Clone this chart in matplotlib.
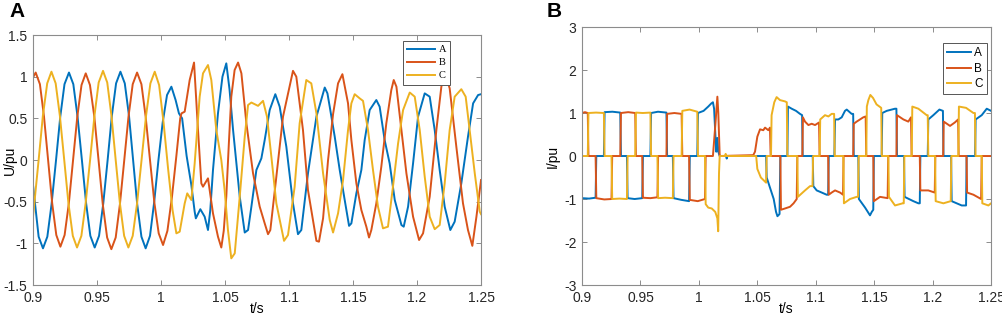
import numpy as np
import matplotlib.pyplot as plt

plt.rcParams['font.family'] = ['Liberation Sans', 'DejaVu Sans']
plt.rcParams['axes.unicode_minus'] = False

# ---------- panel A : phase voltages (t, U/pu) ----------
ua = [(0.9000, -0.30), (0.9044, -0.92), (0.9078, -1.06), (0.9112, -0.92), (0.9145, -0.53),
      (0.9180, 0.00), (0.9213, 0.52), (0.9246, 0.91), (0.9281, 1.05), (0.9315, 0.91),
      (0.9348, 0.52), (0.9382, 0.00), (0.9415, -0.52), (0.9448, -0.91), (0.9482, -1.05),
      (0.9516, -0.91), (0.9549, -0.52), (0.9583, 0.00), (0.9616, 0.53), (0.9649, 0.92),
      (0.9683, 1.06), (0.9717, 0.92), (0.9750, 0.53), (0.9782, 0.00), (0.9814, -0.53),
      (0.9847, -0.92), (0.9880, -1.06), (0.9914, -0.91), (0.9947, -0.50), (0.9980, 0.00),
      (1.0013, 0.45), (1.0047, 0.78), (1.0081, 0.88), (1.0114, 0.72), (1.0140, 0.56),
      (1.0165, 0.50), (1.0200, 0.05), (1.0237, -0.30), (1.0263, -0.62), (1.0272, -0.70),
      (1.0307, -0.59), (1.0341, -0.68), (1.0367, -0.84), (1.0385, -0.60), (1.0406, -0.12),
      (1.0445, 0.56), (1.0480, 1.00), (1.0510, 1.16), (1.0535, 0.85), (1.0563, 0.36),
      (1.0615, -0.44), (1.0654, -0.87), (1.0680, -0.84), (1.0706, -0.56), (1.0745, -0.12),
      (1.0784, 0.02), (1.0810, 0.24), (1.0849, 0.60), (1.0893, 0.79), (1.0927, 0.64),
      (1.0979, 0.16), (1.1031, -0.52), (1.1070, -0.89), (1.1096, -0.84), (1.1148, -0.16),
      (1.1214, 0.52), (1.1279, 0.87), (1.1300, 0.80), (1.1318, 0.64), (1.1357, 0.28),
      (1.1396, -0.12), (1.1435, -0.48), (1.1469, -0.79), (1.1487, -0.76), (1.1526, -0.40),
      (1.1565, -0.12), (1.1591, 0.24), (1.1630, 0.60), (1.1682, 0.72), (1.1708, 0.64),
      (1.1747, 0.24), (1.1786, -0.04), (1.1826, -0.48), (1.1878, -0.78), (1.1896, -0.80),
      (1.1930, -0.56), (1.1969, -0.04), (1.2008, 0.52), (1.2060, 0.80), (1.2099, 0.76),
      (1.2138, 0.36), (1.2177, -0.12), (1.2216, -0.56), (1.2260, -0.84), (1.2294, -0.74),
      (1.2346, -0.28), (1.2398, 0.28), (1.2438, 0.68), (1.2477, 0.78), (1.2500, 0.79)]

ub = [(0.9000, 0.99), (0.9021, 1.05), (0.9054, 0.91), (0.9086, 0.52), (0.9118, 0.00),
      (0.9150, -0.52), (0.9182, -0.90), (0.9214, -1.04), (0.9247, -0.90), (0.9280, -0.52),
      (0.9313, 0.00), (0.9346, 0.52), (0.9379, 0.90), (0.9412, 1.04), (0.9445, 0.90),
      (0.9479, 0.52), (0.9512, 0.00), (0.9545, -0.53), (0.9579, -0.93), (0.9612, -1.07),
      (0.9646, -0.93), (0.9679, -0.53), (0.9713, 0.00), (0.9746, 0.52), (0.9779, 0.91),
      (0.9813, 1.05), (0.9847, 0.91), (0.9880, 0.52), (0.9914, 0.00), (0.9948, -0.51),
      (0.9982, -0.88), (1.0016, -1.02), (1.0050, -0.85), (1.0085, -0.45), (1.0120, 0.05),
      (1.0150, 0.50), (1.0160, 0.56), (1.0185, 0.58), (1.0224, 0.96), (1.0258, 1.17),
      (1.0289, 0.36), (1.0315, -0.28), (1.0328, -0.32), (1.0367, -0.22), (1.0406, -0.64),
      (1.0445, -0.92), (1.0471, -1.05), (1.0490, -0.85), (1.0510, -0.44), (1.0530, 0.20),
      (1.0549, 0.76), (1.0575, 1.08), (1.0602, 1.17), (1.0628, 1.04), (1.0667, 0.44),
      (1.0719, -0.16), (1.0771, -0.56), (1.0810, -0.76), (1.0836, -0.89), (1.0854, -0.84),
      (1.0901, -0.20), (1.0953, 0.52), (1.1031, 1.07), (1.1057, 1.00), (1.1109, 0.36),
      (1.1148, -0.36), (1.1214, -0.97), (1.1234, -0.98), (1.1266, -0.70), (1.1305, 0.00),
      (1.1344, 0.55), (1.1383, 0.92), (1.1417, 1.03), (1.1461, 0.68), (1.1487, 0.24),
      (1.1526, -0.28), (1.1565, -0.60), (1.1604, -0.80), (1.1625, -0.93), (1.1643, -0.84),
      (1.1682, -0.52), (1.1721, -0.08), (1.1760, 0.44), (1.1799, 0.84), (1.1818, 0.96),
      (1.1839, 0.88), (1.1878, 0.36), (1.1917, -0.16), (1.1969, -0.68), (1.2016, -0.96),
      (1.2047, -0.88), (1.2099, -0.44), (1.2151, 0.36), (1.2190, 0.88), (1.2216, 1.06),
      (1.2255, 0.86), (1.2307, 0.16), (1.2359, -0.52), (1.2398, -0.84), (1.2432, -1.03),
      (1.2464, -0.68), (1.2500, -0.24)]

uc = [(0.9000, -0.68), (0.9044, 0.00), (0.9077, 0.53), (0.9111, 0.92), (0.9144, 1.06),
      (0.9177, 0.92), (0.9210, 0.53), (0.9244, 0.00), (0.9277, -0.52), (0.9311, -0.91),
      (0.9344, -1.05), (0.9378, -0.91), (0.9411, -0.52), (0.9446, 0.00), (0.9480, 0.53),
      (0.9513, 0.93), (0.9547, 1.07), (0.9580, 0.93), (0.9613, 0.53), (0.9646, 0.00),
      (0.9679, -0.52), (0.9712, -0.91), (0.9745, -1.05), (0.9779, -0.91), (0.9813, -0.52),
      (0.9848, 0.00), (0.9883, 0.53), (0.9917, 0.92), (0.9951, 1.06), (0.9985, 0.90),
      (1.0020, 0.45), (1.0055, -0.10), (1.0090, -0.60), (1.0120, -0.88), (1.0146, -0.86),
      (1.0185, -0.52), (1.0205, -0.40), (1.0237, -0.48), (1.0263, -0.04), (1.0302, 0.76),
      (1.0328, 1.04), (1.0367, 1.14), (1.0393, 0.96), (1.0432, 0.36), (1.0471, 0.00),
      (1.0497, -0.36), (1.0523, -0.84), (1.0549, -1.18), (1.0576, -1.12), (1.0615, -0.44),
      (1.0654, 0.28), (1.0680, 0.66), (1.0706, 0.69), (1.0758, 0.65), (1.0797, 0.71),
      (1.0828, 0.52), (1.0862, 0.04), (1.0901, -0.52), (1.0961, -0.97), (1.0992, -0.90),
      (1.1044, -0.32), (1.1083, 0.44), (1.1135, 0.96), (1.1174, 0.92), (1.1214, 0.56),
      (1.1266, -0.16), (1.1318, -0.72), (1.1344, -0.87), (1.1383, -0.64), (1.1422, -0.24),
      (1.1461, 0.36), (1.1487, 0.68), (1.1513, 0.79), (1.1552, 0.74), (1.1578, 0.71),
      (1.1617, 0.36), (1.1656, -0.12), (1.1695, -0.56), (1.1734, -0.82), (1.1773, -0.80),
      (1.1812, -0.32), (1.1852, 0.20), (1.1891, 0.60), (1.1943, 0.81), (1.1982, 0.76),
      (1.2021, 0.36), (1.2060, -0.20), (1.2099, -0.68), (1.2138, -0.83), (1.2177, -0.78),
      (1.2216, -0.28), (1.2255, 0.36), (1.2294, 0.76), (1.2346, 0.85), (1.2380, 0.76),
      (1.2411, 0.36), (1.2451, -0.16), (1.2490, -0.62), (1.2500, -0.65)]

# ---------- panel B : phase currents (t, I/pu) ----------
ia = [(0.9000, -0.98), (0.9060, -0.99), (0.9116, -0.97), (0.9122, 0.00), (0.9187, 0.00),
      (0.9193, 1.02), (0.9260, 1.03), (0.9327, 1.01), (0.9333, 0.00), (0.9384, 0.00),
      (0.9390, -0.98), (0.9450, -1.00), (0.9515, -0.98), (0.9521, 0.00), (0.9585, 0.00),
      (0.9591, 1.00), (0.9650, 1.03), (0.9722, 1.01), (0.9728, 0.00), (0.9777, 0.00),
      (0.9783, -0.98), (0.9850, -1.02), (0.9916, -1.05), (0.9922, 0.00), (0.9986, 0.00),
      (0.9992, 1.00), (1.0040, 1.05), (1.0080, 1.15), (1.0105, 1.22), (1.0120, 1.25),
      (1.0130, 1.10), (1.0148, 0.10), (1.0158, 0.42), (1.0166, 0.10), (1.0178, 0.00),
      (1.0232, 0.00), (1.0238, -0.06), (1.0244, 0.00), (1.0575, 0.00), (1.0580, -0.50),
      (1.0610, -0.75), (1.0640, -1.00), (1.0660, -1.30), (1.0672, -1.40), (1.0690, -1.35),
      (1.0697, 0.00), (1.0757, 0.00), (1.0762, 1.15), (1.0794, 1.10), (1.0831, 1.05),
      (1.0865, 0.98), (1.0883, 0.95), (1.0888, 0.00), (1.0974, 0.00), (1.0979, -0.70),
      (1.1008, -0.80), (1.1051, -0.85), (1.1093, -0.90), (1.1106, -0.90), (1.1111, 0.00),
      (1.1159, 0.00), (1.1165, 0.85), (1.1193, 0.85), (1.1222, 0.90), (1.1250, 1.05),
      (1.1265, 1.08), (1.1307, 0.98), (1.1320, 0.98), (1.1325, 0.00), (1.1364, 0.00),
      (1.1369, -1.00), (1.1422, -1.20), (1.1464, -1.38), (1.1479, -1.30), (1.1492, -1.25),
      (1.1497, 0.00), (1.1564, 0.00), (1.1569, 1.00), (1.1607, 1.05), (1.1678, 1.10),
      (1.1690, 1.10), (1.1695, 0.00), (1.1755, 0.00), (1.1760, -0.95), (1.1835, -1.05),
      (1.1878, -1.10), (1.1890, -1.10), (1.1895, 0.00), (1.1958, 0.00), (1.1963, 0.85),
      (1.2006, 0.95), (1.2058, 1.08), (1.2088, 1.05), (1.2093, 0.00), (1.2158, 0.00),
      (1.2163, -1.05), (1.2249, -1.15), (1.2286, -1.15), (1.2291, 0.00), (1.2363, 0.00),
      (1.2368, 0.85), (1.2420, 0.95), (1.2463, 1.10), (1.2500, 1.05)]

ib = [(0.9000, 1.00), (0.9025, 1.02), (0.9049, 1.00), (0.9055, 0.00), (0.9116, 0.00),
      (0.9122, -0.98), (0.9190, -1.01), (0.9252, -1.00), (0.9258, 0.00), (0.9327, 0.00),
      (0.9333, 1.00), (0.9395, 1.02), (0.9455, 1.00), (0.9461, 0.00), (0.9515, 0.00),
      (0.9521, -0.97), (0.9585, -0.98), (0.9645, -0.96), (0.9651, 0.00), (0.9722, 0.00),
      (0.9728, 0.98), (0.9790, 1.00), (0.9852, 0.98), (0.9858, 0.00), (0.9916, 0.00),
      (0.9922, -1.02), (0.9990, -1.05), (1.0052, -1.00), (1.0058, 0.00), (1.0120, 0.00),
      (1.0140, 0.70), (1.0158, 1.38), (1.0166, 1.00), (1.0178, 0.00), (1.0465, 0.02),
      (1.0480, 0.10), (1.0500, 0.45), (1.0523, 0.62), (1.0551, 0.60), (1.0566, 0.66),
      (1.0594, 0.60), (1.0608, 0.66), (1.0614, 0.00), (1.0697, 0.00), (1.0702, -1.25),
      (1.0737, -1.22), (1.0780, -1.18), (1.0810, -1.10), (1.0837, -1.00), (1.0842, 0.00),
      (1.0885, 0.00), (1.0890, 0.90), (1.0908, 0.80), (1.0937, 0.72), (1.0965, 0.75),
      (1.0994, 0.72), (1.1028, 0.78), (1.1033, 0.00), (1.1106, 0.00), (1.1111, -0.90),
      (1.1136, -0.85), (1.1165, -0.80), (1.1208, -0.85), (1.1233, -0.90), (1.1238, 0.00),
      (1.1320, 0.00), (1.1325, 0.75), (1.1350, 0.80), (1.1407, 0.90), (1.1427, 0.92),
      (1.1432, 0.00), (1.1492, 0.00), (1.1497, -1.05), (1.1550, -0.95), (1.1615, -0.98),
      (1.1620, 0.00), (1.1690, 0.00), (1.1695, 0.95), (1.1750, 0.85), (1.1792, 0.80),
      (1.1815, 0.90), (1.1820, 0.00), (1.1890, 0.00), (1.1895, -0.80), (1.1963, -0.80),
      (1.2018, -0.85), (1.2023, 0.00), (1.2090, 0.00), (1.2095, 0.80), (1.2149, 0.70),
      (1.2190, 0.78), (1.2218, 0.85), (1.2223, 0.00), (1.2290, 0.00), (1.2295, -0.85),
      (1.2349, -0.90), (1.2415, -1.00), (1.2420, 0.00), (1.2500, 0.00)]

ic = [(0.9000, 0.00), (0.9049, 0.00), (0.9055, 1.00), (0.9120, 1.01), (0.9187, 1.00),
      (0.9193, 0.00), (0.9252, 0.00), (0.9258, -1.00), (0.9320, -0.99), (0.9384, -1.00),
      (0.9390, 0.00), (0.9455, 0.00), (0.9461, 1.01), (0.9520, 1.00), (0.9585, 1.01),
      (0.9591, 0.00), (0.9645, 0.00), (0.9651, -0.98), (0.9710, -0.97), (0.9777, -0.98),
      (0.9783, 0.00), (0.9852, 0.00), (0.9858, 1.05), (0.9920, 1.08), (0.9986, 1.03),
      (0.9992, 0.00), (1.0052, 0.00), (1.0058, -1.12), (1.0080, -1.20), (1.0110, -1.22),
      (1.0140, -1.30), (1.0158, -1.45), (1.0165, -1.75), (1.0172, -0.40), (1.0178, 0.00),
      (1.0224, 0.00), (1.0229, 0.05), (1.0234, 0.00), (1.0490, 0.00), (1.0500, -0.30),
      (1.0530, -0.50), (1.0575, -0.62), (1.0580, 0.00), (1.0617, 0.00), (1.0622, 0.95),
      (1.0645, 1.25), (1.0665, 1.37), (1.0694, 1.30), (1.0737, 1.27), (1.0752, 1.25),
      (1.0757, 0.00), (1.0842, 0.00), (1.0847, -0.95), (1.0908, -0.80), (1.0951, -0.70),
      (1.0972, -0.70), (1.0977, 0.00), (1.1033, 0.00), (1.1038, 0.85), (1.1079, 0.95),
      (1.1108, 0.92), (1.1136, 0.98), (1.1157, 0.98), (1.1162, 0.00), (1.1236, 0.00),
      (1.1241, -1.10), (1.1293, -1.00), (1.1350, -0.95), (1.1362, -0.95), (1.1367, 0.00),
      (1.1432, 0.00), (1.1437, 1.15), (1.1450, 1.30), (1.1467, 1.42), (1.1490, 1.35),
      (1.1520, 1.20), (1.1560, 1.12), (1.1565, 0.00), (1.1621, 0.00), (1.1626, -0.95),
      (1.1678, -1.15), (1.1744, -1.10), (1.1753, -1.10), (1.1758, 0.00), (1.1821, 0.00),
      (1.1826, 1.15), (1.1878, 1.10), (1.1949, 0.95), (1.1958, 0.95), (1.1963, 0.00),
      (1.2021, 0.00), (1.2026, -1.05), (1.2092, -1.10), (1.2155, -1.05), (1.2160, 0.00),
      (1.2220, 0.00), (1.2225, 1.15), (1.2286, 1.12), (1.2349, 1.00), (1.2362, 1.00),
      (1.2367, 0.00), (1.2420, 0.00), (1.2425, -1.10), (1.2477, -1.15), (1.2500, -1.10)]

phases = ['A', 'B', 'C']
xticks = [0.9, 0.95, 1.0, 1.05, 1.1, 1.15, 1.2, 1.25]
xtick_labels = ['0.9', '0.95', '1', '1.05', '1.1', '1.15', '1.2', '1.25']
u_ticks = [-1.5, -1, -0.5, 0, 0.5, 1, 1.5]
u_tick_labels = ['-1.5', '-1', '-0.5', '0', '0.5', '1', '1.5']
i_ticks = [-3, -2, -1, 0, 1, 2, 3]
i_tick_labels = ['-3', '-2', '-1', '0', '1', '2', '3']

colors = ['#0072BD', '#D95319', '#EDB120']
edge = '#8c8c8c'

fig = plt.figure(figsize=(10.03, 3.17), dpi=100)
axA = fig.add_axes([0.0329, 0.1009, 0.4467, 0.7886])
axB = fig.add_axes([0.5803, 0.1009, 0.4078, 0.8139])


def style(ax, yticks, ylabels, ylim):
    ax.set_xlim(0.9, 1.25)
    ax.set_ylim(*ylim)
    ax.set_xticks(xticks)
    ax.set_xticklabels(xtick_labels)
    ax.set_yticks(yticks)
    ax.set_yticklabels(ylabels)
    ax.tick_params(direction='in', top=True, right=True, length=3.5, width=0.7,
                   color=edge, labelcolor='#262626', labelsize=10, pad=4)
    for s in ax.spines.values():
        s.set_color(edge)
        s.set_linewidth(0.8)


for data, c, name in zip([ua, ub, uc], colors, phases):
    t, v = np.array(data).T
    axA.plot(t, v, color=c, lw=1.4, label=name)
style(axA, u_ticks, u_tick_labels, (-1.5, 1.5))
axA.set_xlabel('t/s', fontsize=10)
axA.set_ylabel('U/pu', fontsize=10)
axA.xaxis.set_label_coords(0.5, -0.066)
axA.yaxis.set_label_coords(-0.036, 0.5)
legA = axA.legend(loc='upper right', bbox_to_anchor=(0.931, 0.976), borderaxespad=0,
                  prop={'family': 'Liberation Serif', 'size': 7.5}, handlelength=2.7,
                  handletextpad=0.3, labelspacing=0.35, borderpad=0.4, fancybox=False,
                  framealpha=1, edgecolor='#555555')
legA.get_frame().set_linewidth(0.7)

for data, c, name in zip([ia, ib, ic], colors, phases):
    t, v = np.array(data).T
    axB.plot(t, v, color=c, lw=1.4, label=name)
style(axB, i_ticks, i_tick_labels, (-3, 3))
axB.set_xlabel('t/s', fontsize=10)
axB.set_ylabel('I/pu', fontsize=10)
axB.xaxis.set_label_coords(0.5, -0.064)
axB.yaxis.set_label_coords(-0.054, 0.5)
legB = axB.legend(loc='upper right', bbox_to_anchor=(0.990, 0.938), borderaxespad=0,
                  prop={'size': 8.5}, handlelength=2.0, handletextpad=0.3,
                  labelspacing=0.3, borderpad=0.35, fancybox=False, framealpha=1,
                  edgecolor='#555555')
legB.get_frame().set_linewidth(0.7)

fig.text(9 / 1003, 0.995, 'A', fontsize=15, fontweight='bold', va='top', ha='left')
fig.text(547 / 1003, 0.995, 'B', fontsize=15, fontweight='bold', va='top', ha='left')

fig.savefig('out.png', dpi=100)
